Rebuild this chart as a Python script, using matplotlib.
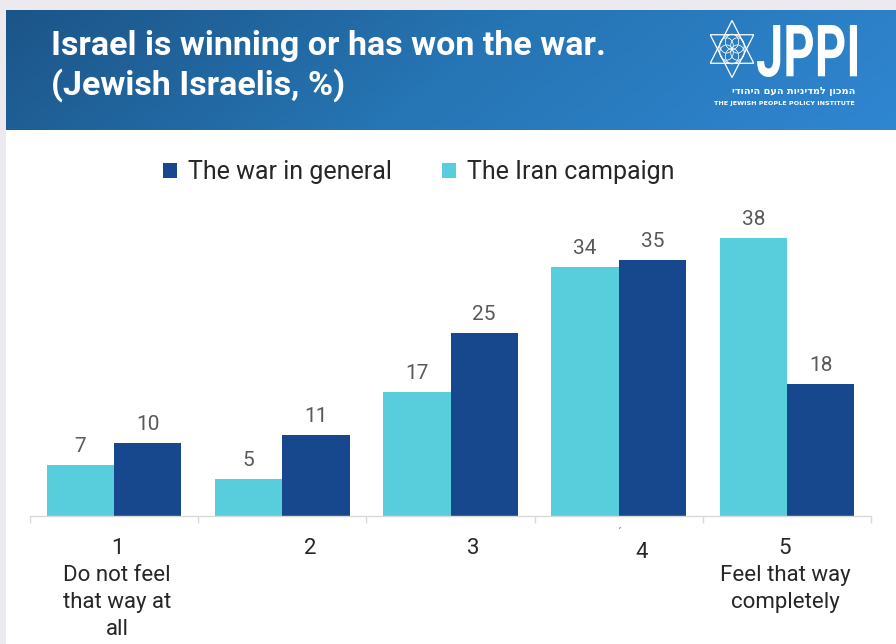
import numpy as np
import matplotlib
matplotlib.use("Agg")
import matplotlib.pyplot as plt
from matplotlib.patches import Rectangle, Polygon, Circle, PathPatch
from matplotlib.colors import LinearSegmentedColormap
from matplotlib.textpath import TextPath
from matplotlib.font_manager import FontProperties
from matplotlib.transforms import Affine2D

# ---- data ----
categories = ["1\nDo not feel\nthat way at\nall", "2", "3", "4", "5\nFeel that way\ncompletely"]
iran_campaign = [7, 5, 17, 34, 38]
war_in_general = [10, 11, 25, 35, 18]
series_names = ["The war in general", "The Iran campaign"]
title_text = "Israel is winning or has won the war.\n(Jewish Israelis, %)"

NAVY = "#17478d"
CYAN = "#58cddc"
LABEL_GRAY = "#595959"
TEXT_DARK = "#262626"

plt.rcParams["font.family"] = ["Roboto", "DejaVu Sans"]

W, H = 896, 644
fig = plt.figure(figsize=(W / 100, H / 100), dpi=100)
fig.patch.set_facecolor("white")

def fx(px):
    return px / W

def fy(py):
    return 1 - py / H

# light gray frame strip on the top and left
fig.add_artist(Rectangle((0, fy(10)), 1, 10 / H, transform=fig.transFigure,
                         facecolor="#eceaef", edgecolor="none", zorder=0))
fig.add_artist(Rectangle((0, 0), fx(6), 1, transform=fig.transFigure,
                         facecolor="#eceaef", edgecolor="none", zorder=0))

# header band with gradient
hdr = fig.add_axes([fx(6), fy(130), 1 - fx(6), (130 - 10) / H])
hdr.set_axis_off()
cmap = LinearSegmentedColormap.from_list("hdr", ["#1c5588", "#2675b4", "#2f86d1"])
gx = np.linspace(0, 1, 300)
gy = np.linspace(0, 1, 40)
GX, GY = np.meshgrid(gx, gy)
grad = 0.85 * GX + 0.15 * GY
hdr.imshow(grad, cmap=cmap, aspect="auto", extent=[0, 1, 0, 1], origin="upper")
hdr.set_xlim(0, 1)
hdr.set_ylim(0, 1)

fig.text(fx(51), fy(66), title_text, color="white", fontsize=24.5, fontweight="bold",
         family=["Roboto", "DejaVu Sans"], va="center", ha="left", linespacing=1.2)

# overlay in pixel coordinates for the logo lettering
ov = fig.add_axes([0, 0, 1, 1])
ov.set_axis_off()
ov.set_xlim(0, W)
ov.set_ylim(H, 0)
ov.patch.set_alpha(0)

def fitted_text(s, box, weight="bold"):
    x0, y0, x1, y1 = box
    tp = TextPath((0, 0), s, size=10, prop=FontProperties(family="Roboto", weight=weight))
    ext = tp.get_extents()
    sx = (x1 - x0) / ext.width
    sy = (y1 - y0) / ext.height
    tr = (Affine2D().translate(-ext.x0, -ext.y0).scale(sx, -sy)
          .translate(x0, y1))
    ov.add_patch(PathPatch(tr.transform_path(tp), facecolor="white", edgecolor="none"))

fitted_text("JPPI", (757, 25, 857, 77))

# logo: star of David with inner rings
lg = fig.add_axes([fx(710), fy(78), fx(44), 58 / H])
lg.set_axis_off()
lg.set_xlim(-1.05, 1.05)
lg.set_ylim(-1.22, 1.22)
r = 1.2
up = [(r * np.cos(np.radians(a)), r * np.sin(np.radians(a))) for a in (90, 210, 330)]
dn = [(r * np.cos(np.radians(a)), r * np.sin(np.radians(a))) for a in (270, 30, 150)]
lg.add_patch(Polygon(up, closed=True, fill=False, edgecolor="white", lw=0.9))
lg.add_patch(Polygon(dn, closed=True, fill=False, edgecolor="white", lw=0.9))
for k in range(6):
    a = np.radians(30 + 60 * k)
    lg.add_patch(Circle((0.3 * np.cos(a), 0.3 * np.sin(a)), 0.32, fill=False,
                        edgecolor="white", lw=0.55))
lg.add_patch(Circle((0, 0), 0.62, fill=False, edgecolor="white", lw=0.6))

hebrew = "המכון למדיניות העם היהודי"
fig.text(fx(855), fy(91), hebrew[::-1], color="white", fontsize=7, fontweight="bold",
         family=["DejaVu Sans"], va="center", ha="right")
fig.text(fx(855), fy(103), "THE JEWISH PEOPLE POLICY INSTITUTE", color="white",
         fontsize=4.6, fontweight="bold", family=["DejaVu Sans"], va="center", ha="right")

# ---- bar chart ----
ax_left, ax_right = 30, 871
ax_bottom = 516
ymax = 45
ppu = 7.32
ax_top = ax_bottom - ymax * ppu
ax = fig.add_axes([fx(ax_left), fy(ax_bottom), (ax_right - ax_left) / W,
                   (ax_bottom - ax_top) / H])
ax.set_facecolor("none")

x = np.arange(len(categories))
bw = 0.4
b_iran = ax.bar(x - bw / 2, iran_campaign, bw, color=CYAN, label=series_names[1], zorder=2)
b_war = ax.bar(x + bw / 2, war_in_general, bw, color=NAVY, label=series_names[0], zorder=2)

for bars, vals in ((b_iran, iran_campaign), (b_war, war_in_general)):
    for rect, v in zip(bars, vals):
        ax.annotate(f"{v}", (rect.get_x() + rect.get_width() / 2, v),
                    xytext=(0, 6.5), textcoords="offset points", ha="center",
                    va="bottom", fontsize=15, color=LABEL_GRAY)

ax.set_xlim(-0.5, len(categories) - 0.5)
ax.set_ylim(0, ymax)
for s in ("top", "right", "left"):
    ax.spines[s].set_visible(False)
ax.spines["bottom"].set_color("#d9d9d9")
ax.spines["bottom"].set_linewidth(1.0)
ax.set_yticks([])
ax.set_xticks(np.arange(-0.5, len(categories), 1.0))
ax.set_xticklabels([])
ax.tick_params(axis="x", length=5, color="#d9d9d9", width=1.0)

# category labels (pixel offsets of each label from its group centre)
label_dx = [3, 28, 23, 23, -2]
label_dy = [0, 0, 0, 4, 0]
for i, lab in enumerate(categories):
    ax.annotate(lab, (i, 0), xytext=(label_dx[i] * 0.72, -(22 + label_dy[i]) * 0.72),
                textcoords="offset points", ha="center", va="top",
                fontsize=16, color=TEXT_DARK, linespacing=1.38,
                annotation_clip=False)
ax.annotate("\u00b4", (3, 0), xytext=(0, -8), textcoords="offset points",
            ha="center", va="top", fontsize=9, color="#808080", annotation_clip=False)

# legend with navy series first
handles = [b_war, b_iran]
fig.legend(handles, series_names, loc="center", bbox_to_anchor=(fx(419), fy(172)),
           ncol=2, frameon=False, fontsize=18, handlelength=0.56, handleheight=0.56,
           handletextpad=0.45, columnspacing=2.0, labelcolor=TEXT_DARK)

fig.savefig("out.png", dpi=100, facecolor=fig.get_facecolor())
